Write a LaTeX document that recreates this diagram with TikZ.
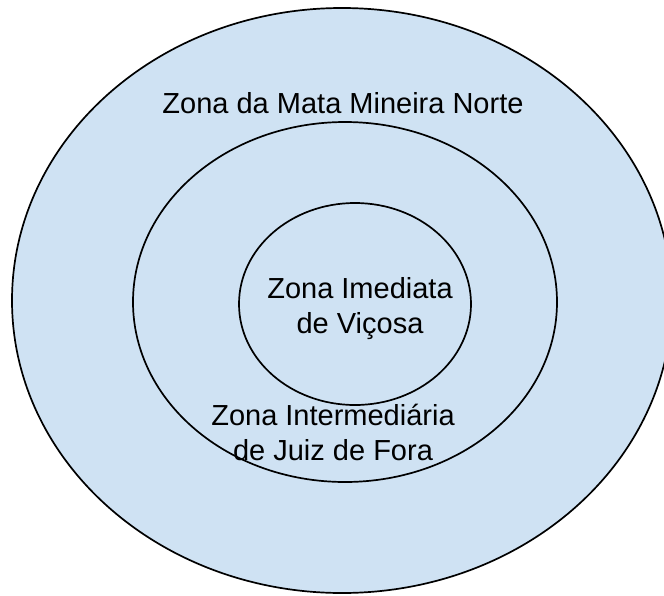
\documentclass[tikz,border=0pt]{standalone}
\usepackage{fontspec}
\setmainfont{Liberation Sans}
\usetikzlibrary{shapes.geometric}
\definecolor{zonefill}{RGB}{207,226,243}
\begin{document}
\begin{tikzpicture}[x=1pt,y=-1pt,
  zone/.style={ellipse, draw=black, line width=1.7pt, fill=zonefill, inner sep=0pt},
  lbl/.style={align=center, font=\fontsize{29}{35}\selectfont, inner sep=0pt}]
\useasboundingbox (0,0) rectangle (664,595);
\clip (0,0) rectangle (664,595);
\node[zone, minimum width=660pt, minimum height=585pt] (outer) at (342,300.5) {};
\node[zone, minimum width=424pt, minimum height=360pt] (mid) at (345,302) {};
\node[zone, minimum width=232pt, minimum height=202pt] (inner) at (355,304) {};
\node[lbl] (tOuter) at (343,103) {Zona da Mata Mineira Norte};
\node[lbl] (tMid) at (333,432) {Zona Intermediária\\de Juiz de Fora};
\node[lbl] (tInner) at (360,309) {Zona Imediata\\de Viçosa};
\end{tikzpicture}
\end{document}
